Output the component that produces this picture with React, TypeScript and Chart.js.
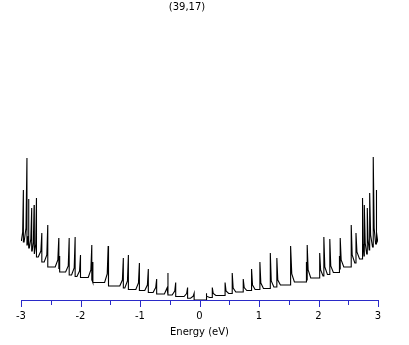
import React, { useEffect, useRef } from "react";
import { Chart, registerables } from "chart.js";

Chart.register(...registerables);

const TITLE = "(39,17)";
const X_LABEL = "Energy (eV)";
const X_TICKS = [-3, -2.5, -2, -1.5, -1, -0.5, 0, 0.5, 1, 1.5, 2, 2.5, 3];

// Van Hove spikes on the negative side (ascending energy, eV)
const negEnergy = [-2.96, -2.9, -2.87, -2.82, -2.78, -2.74, -2.65, -2.55, -2.365, -2.35, -2.19, -2.09, -2.0, -1.81, -1.79, -1.535, -1.525, -1.28, -1.195, -1.01, -0.86, -0.72, -0.53, -0.4, -0.2, -0.09];
const negPeak = [110, 142, 101, 92, 95, 102, 67, 75, 62, 44, 62, 63, 45, 55, 38, 54, 36, 42, 45, 37, 31, 21, 27, 17.5, 12.5, 6.7];
const negTail = [68, 72, 64, 61, 58, 56, 49, 45, 40, 38, 34, 32, 29, 30, 27, 26, 23, 20, 19, 17, 15, 12.5, 12, 9, 6.5, 3.8];
const negLevel = [60, 58, 55, 52, 49, 46, 43, 38, 33, 31, 28, 25, 23.5, 22.5, 20, 17.5, 16, 14, 12, 10.5, 9.5, 7.5, 6, 5, 3.5, 1.7];

// Van Hove spikes on the positive side (ascending energy, eV)
const posEnergy = [0.11, 0.215, 0.43, 0.55, 0.735, 0.875, 1.015, 1.19, 1.3, 1.525, 1.535, 1.79, 1.81, 2.02, 2.09, 2.19, 2.35, 2.365, 2.55, 2.63, 2.74, 2.77, 2.82, 2.86, 2.92, 2.97];
const posPeak = [6.7, 12.5, 17.5, 27, 21, 31, 38, 47, 42, 36, 54, 38, 55, 47, 63, 61, 44, 62, 75, 67, 102, 95, 92, 107, 143, 110];
const posTail = [3.8, 6.5, 9, 12, 12.5, 15, 17, 19, 20, 23, 26, 27, 30, 30, 33, 34, 38, 40, 45, 48, 56, 57, 61, 65, 72, 68];
const posLevel = [2.5, 4.5, 6.5, 8, 9.5, 10.5, 11.5, 13, 15, 16, 18, 20, 22, 24, 25.5, 27.5, 31, 33, 37, 41, 44, 46, 50, 53, 56, 59];

const START_VALUE = 59.5;
const END_VALUE = 60;

type P = { x: number; y: number };

function buildPoints(): P[] {
  const pts: P[] = [];
  pts.push({ x: -3, y: START_VALUE });
  // negative side: gradual rise on the left, sharp drop on the right
  for (let i = 0; i < negEnergy.length; i++) {
    const e = negEnergy[i];
    const prevE = i === 0 ? -3 : negEnergy[i - 1];
    const gap = e - prevE;
    const d2 = Math.min(0.06, gap * 0.8);
    const d1 = Math.min(0.016, gap * 0.3);
    pts.push({ x: e - d2, y: negLevel[i] });
    pts.push({ x: e - d1, y: negTail[i] });
    pts.push({ x: e, y: negPeak[i] });
    const inner = i === negEnergy.length - 1 ? 0 : negLevel[i + 1];
    pts.push({ x: e, y: inner });
  }
  // positive side: sharp rise, decay to the right
  for (let i = 0; i < posEnergy.length; i++) {
    const e = posEnergy[i];
    const nextE = i === posEnergy.length - 1 ? 3 : posEnergy[i + 1];
    const gap = nextE - e;
    const d2 = Math.min(0.06, gap * 0.8);
    const d1 = Math.min(0.016, gap * 0.3);
    const before = i === 0 ? 0 : posLevel[i - 1];
    pts.push({ x: e, y: before });
    pts.push({ x: e, y: posPeak[i] });
    pts.push({ x: e + d1, y: posTail[i] });
    pts.push({ x: e + d2, y: posLevel[i] });
  }
  pts.push({ x: 3, y: END_VALUE });
  return pts;
}

const AXIS_BLUE = "#2a2ac8";
const FONT = "DejaVu Sans";

const decorPlugin = {
  id: "decor",
  afterDraw(chart: any) {
    const ctx = chart.ctx;
    const xs = chart.scales.x;
    const yAxis = Math.round(chart.chartArea.bottom);
    ctx.save();
    ctx.fillStyle = AXIS_BLUE;
    for (const v of X_TICKS) {
      const px = Math.round(xs.getPixelForValue(v));
      const len = Number.isInteger(v) ? 7 : 5;
      ctx.fillRect(px, yAxis, 1, len);
    }
    ctx.fillStyle = "#000";
    ctx.font = `10px '${FONT}'`;
    ctx.textAlign = "center";
    ctx.textBaseline = "middle";
    ctx.fillText(TITLE, 187, 7);
    ctx.restore();
  },
};

export default function App() {
  const ref = useRef<HTMLCanvasElement>(null);
  useEffect(() => {
    const chart = new Chart(ref.current as HTMLCanvasElement, {
      type: "line",
      data: {
        datasets: [
          {
            data: buildPoints(),
            borderColor: "#000",
            borderWidth: 1.1,
            pointRadius: 0,
            tension: 0,
            fill: false,
          },
        ],
      },
      options: {
        animation: false,
        responsive: false,
        layout: { padding: { left: 21, right: 31, top: 20, bottom: 0 } },
        plugins: { legend: { display: false }, tooltip: { enabled: false }, title: { display: false } },
        scales: {
          x: {
            type: "linear",
            min: -3,
            max: 3,
            afterFit: (s: any) => {
              s.height = 45;
            },
            afterBuildTicks: (s: any) => {
              s.ticks = X_TICKS.map((v) => ({ value: v }));
            },
            grid: { display: false, drawTicks: false },
            border: { display: true, color: AXIS_BLUE, width: 1 },
            ticks: {
              autoSkip: false,
              maxRotation: 0,
              padding: 10,
              color: "#000",
              font: { family: FONT, size: 10 },
              callback: (v: any) => (Number.isInteger(Number(v)) ? String(v) : ""),
            },
            title: {
              display: true,
              text: X_LABEL,
              color: "#000",
              font: { family: FONT, size: 10 },
              padding: { top: 0, bottom: 7 },
            },
          },
          y: { display: false, min: 0, max: 280 },
        },
      },
      plugins: [decorPlugin],
    });
    return () => chart.destroy();
  }, []);
  return (
    <div style={{ position: "fixed", left: 0, top: 0, width: 409, height: 345, background: "#fff" }}>
      <canvas ref={ref} width={409} height={345} />
    </div>
  );
}
